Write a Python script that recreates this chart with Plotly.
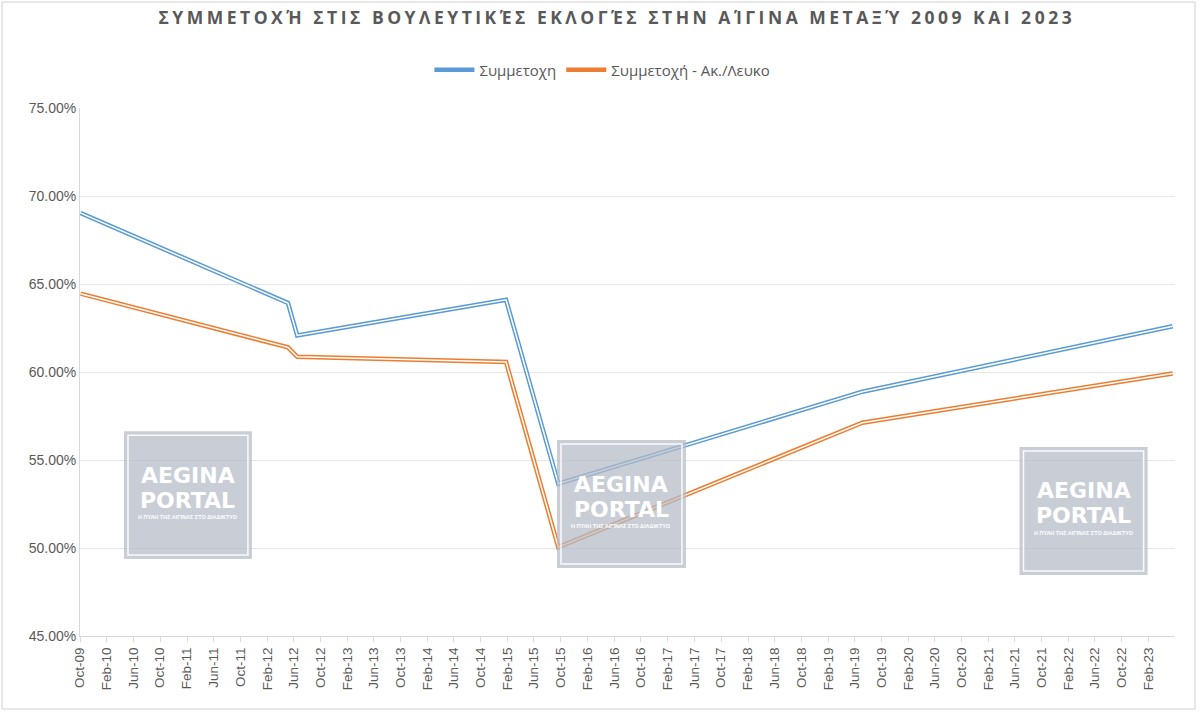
import plotly.graph_objects as go
import pandas as pd

# ---- data ----
election_dates = ["2009-10-04", "2012-05-06", "2012-06-17", "2015-01-25",
                  "2015-09-20", "2019-07-07", "2023-05-21"]
turnout = [0.6903, 0.6392, 0.6208, 0.6410, 0.5365, 0.5888, 0.6260]
turnout_valid = [0.6445, 0.6140, 0.6086, 0.6057, 0.5005, 0.5712, 0.5992]
series_names = ["Συμμετοχη", "Συμμετοχή - Ακ./Λευκο"]
title_text = "ΣΥΜΜΕΤΟΧΉ ΣΤΙΣ ΒΟΥΛΕΥΤΙΚΈΣ ΕΚΛΟΓΈΣ ΣΤΗΝ ΑΊΓΙΝΑ ΜΕΤΑΞΎ 2009 ΚΑΙ 2023"
tick_dates = pd.date_range("2009-10-01", "2023-02-01", freq="4MS")
watermark_title = ["AEGINA", "PORTAL"]
watermark_sub = "Η ΠΥΛΗ ΤΗΣ ΑΙΓΙΝΑΣ ΣΤΟ ΔΙΑΔΙΚΤΥΟ"

BLUE = "#5b9bd5"
ORANGE = "#ed7d31"
GREY_TXT = "#595959"

fig = go.Figure()
for name, vals, col in [(series_names[0], turnout, BLUE),
                        (series_names[1], turnout_valid, ORANGE)]:
    fig.add_trace(go.Scatter(x=election_dates, y=vals, mode="lines", name=name,
                             legendgroup=name, line=dict(color=col, width=4.5)))
    fig.add_trace(go.Scatter(x=election_dates, y=vals, mode="lines", name=name,
                             legendgroup=name, showlegend=False, hoverinfo="skip",
                             line=dict(color="white", width=1.5)))

# watermark boxes (paper coords of the plot area: 1095 x 528 px)
PW, PH = 1095, 528
boxes = [(0.0402, 0.157, 0.146, 0.388),
         (0.4356, 0.5534, 0.129, 0.371),
         (0.858, 0.975, 0.1155, 0.358)]
shapes = []
annotations = []
for (x0, x1, y0, y1) in boxes:
    shapes.append(dict(type="rect", xref="paper", yref="paper", x0=x0, x1=x1, y0=y0, y1=y1,
                       fillcolor="rgba(180,187,198,0.72)", line=dict(width=0), layer="above"))
    dx = 4 / PW
    dy = 4 / PH
    shapes.append(dict(type="rect", xref="paper", yref="paper", x0=x0 + dx, x1=x1 - dx,
                       y0=y0 + dy, y1=y1 - dy, fillcolor="rgba(0,0,0,0)",
                       line=dict(color="rgba(255,255,255,0.9)", width=1.5), layer="above"))
    xc = (x0 + x1) / 2
    annotations.append(dict(xref="paper", yref="paper", x=xc, y=y1 - 44 / PH,
                            text="<b>" + watermark_title[0] + "</b>", showarrow=False,
                            font=dict(family="DejaVu Sans", size=22, color="white"),
                            xanchor="center", yanchor="middle", borderpad=0))
    annotations.append(dict(xref="paper", yref="paper", x=xc, y=y1 - 69 / PH,
                            text="<b>" + watermark_title[1] + "</b>", showarrow=False,
                            font=dict(family="DejaVu Sans", size=22, color="white"),
                            xanchor="center", yanchor="middle", borderpad=0))
    annotations.append(dict(xref="paper", yref="paper", x=xc, y=y1 - 86 / PH,
                            text="<b>" + watermark_sub + "</b>", showarrow=False,
                            font=dict(family="Liberation Sans", size=5.5, color="white"),
                            xanchor="center", yanchor="middle", borderpad=0))

# outer chart border
shapes.append(dict(type="rect", xref="paper", yref="paper",
                   x0=(2 - 80) / PW, x1=(1195 - 80) / PW,
                   y0=(636 - 709) / PH, y1=(636 - 2) / PH,
                   line=dict(color="#d0d0d0", width=1), fillcolor="rgba(0,0,0,0)", layer="below"))

fig.update_layout(
    width=1200, height=713,
    margin=dict(l=80, r=25, t=108, b=77),
    paper_bgcolor="white", plot_bgcolor="white",
    title=dict(text='<span style="letter-spacing:3.5px"><b>' + title_text + "</b></span>",
               xref="container", yref="container", x=0.514, y=1 - 18 / 713,
               xanchor="center", yanchor="middle",
               font=dict(family="Open Sans", size=17.5, color=GREY_TXT)),
    showlegend=True,
    legend=dict(orientation="h", xref="container", yref="container",
                x=0.502, y=1 - 70 / 713, xanchor="center", yanchor="middle",
                font=dict(family="Open Sans", size=15, color=GREY_TXT),
                itemwidth=40, tracegroupgap=0),
    shapes=shapes,
    annotations=annotations,
    xaxis=dict(type="date", range=["2009-10-01", "2023-06-01"],
               tickvals=tick_dates, tickformat="%b-%y", tickangle=-90,
               tickfont=dict(family="Liberation Sans", size=13.5, color=GREY_TXT),
               showgrid=False, showline=True, linecolor="#d9d9d9", linewidth=1,
               ticks="outside", ticklen=5, tickcolor="#d9d9d9", zeroline=False),
    yaxis=dict(range=[0.45, 0.75], dtick=0.05, tick0=0.45, tickformat=".2%",
               tickfont=dict(family="Liberation Sans", size=14, color=GREY_TXT),
               showgrid=True, gridcolor="#e6e6e6", gridwidth=1,
               showline=True, linecolor="#d9d9d9", zeroline=False, ticks=""),
)

fig.write_html("out.html")
